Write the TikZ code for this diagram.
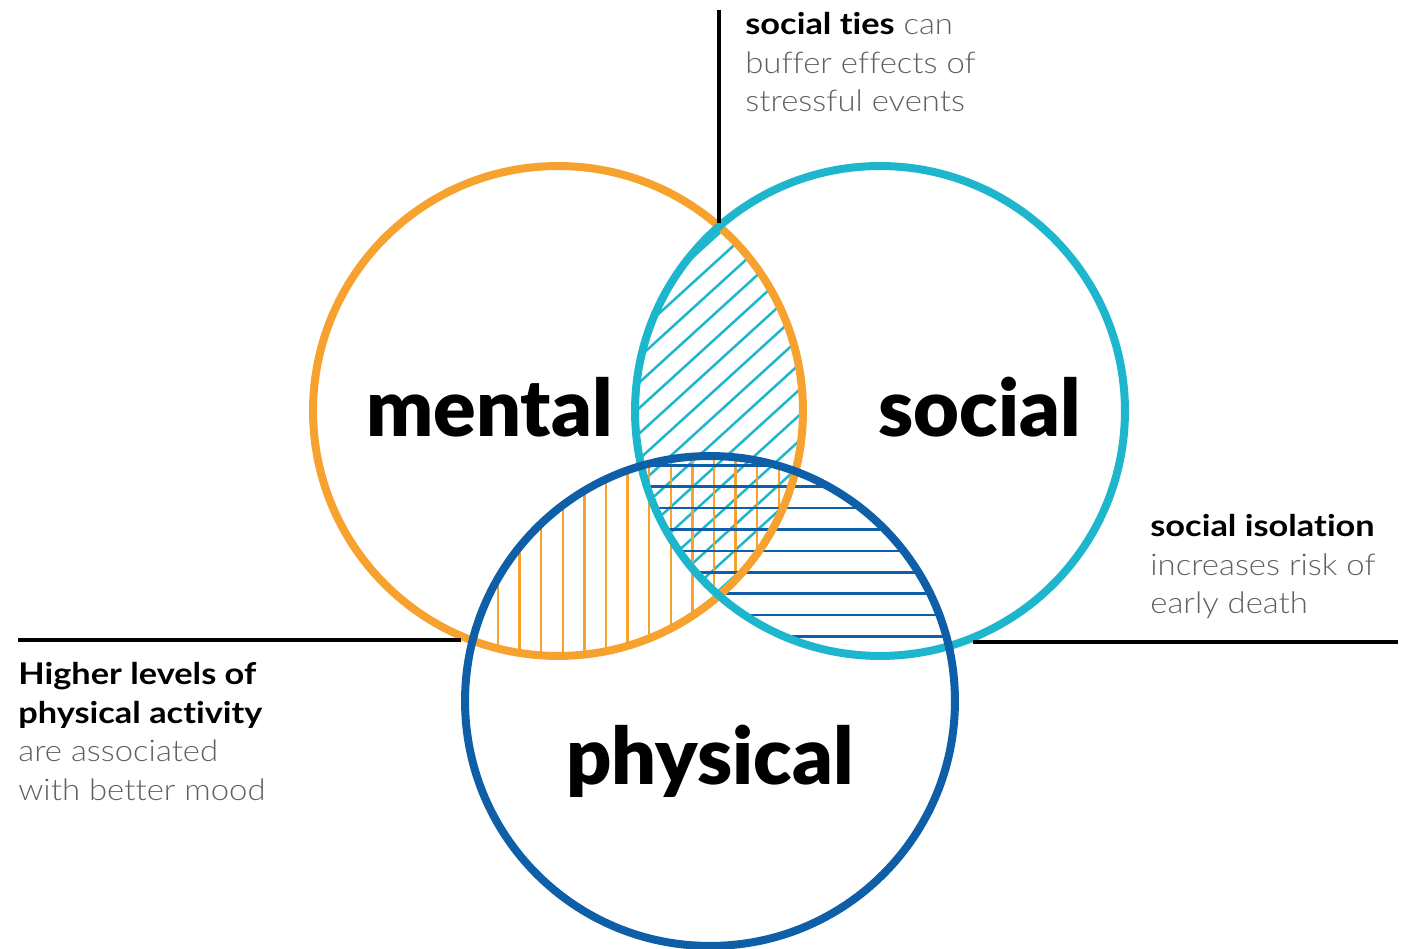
\documentclass[tikz,border=0pt]{standalone}
\usepackage{fontspec}
\setmainfont{Lato}[FakeStretch=1.15, Ligatures={NoCommon}]
\newfontfamily\latolight{Lato Light}[FakeStretch=1.1, Ligatures={NoCommon}]
\newfontfamily\latoblack{Lato Black}
\usepackage{tikz}
\definecolor{orangem}{HTML}{F7A12E}
\definecolor{cyans}{HTML}{1DB6CC}
\definecolor{bleup}{HTML}{0E5FA8}
\definecolor{grist}{HTML}{606060}
\newcommand\leger[1]{{\latolight\color{grist}#1}}

\begin{document}
\begin{tikzpicture}[x=0.02cm,y=0.02cm]
\tikzset{rond/.style={draw, circle, line width=0.16cm, minimum size=9.8cm, inner sep=0},
  hach/.style={line width=0.05cm},
  trait/.style={line width=0.09cm, black},
  mot/.style={font=\latoblack\fontsize{45}{45}\selectfont, inner sep=0, anchor=base west},
  legende/.style={align=left, inner sep=0, anchor=north west, font=\fontsize{17}{22}\selectfont}}
\useasboundingbox (0,0) rectangle (1407,949);
% hachures
\begin{scope}
\clip (558,538) circle[radius=245];
\clip (880,538) circle[radius=245];
\foreach \k in {-12,...,12}
  \draw[hach, cyans] ({440+28*\k},283) -- ({1000+28*\k},793);
\end{scope}
\begin{scope}
\clip (558,538) circle[radius=245];
\clip (710,248) circle[radius=245];
\foreach \k in {-2,...,15}
  \draw[hach, orangem] ({498+21.6*\k},200) -- ({498+21.6*\k},560);
\end{scope}
\begin{scope}
\clip (880,538) circle[radius=245];
\clip (710,248) circle[radius=245];
\foreach \k in {-2,...,12}
  \draw[hach, bleup] (600,{462.3-21.4*\k}) -- (1000,{462.3-21.4*\k});
\end{scope}
% cercles
\node[rond, draw=orangem] (mental) at (558,538) {};
\node[rond, draw=cyans] (social) at (880,538) {};
\node[rond, draw=bleup] (physical) at (710,248) {};
% traits
\coordinate (haut) at (719,939);
\coordinate (gauche) at (18,309);
\coordinate (droite) at (1398,307);
\draw[trait] (haut) -- (haut |- mental.49);
\draw[trait] (gauche) -- (gauche -| mental.247);
\draw[trait] (droite -| social.292) -- (droite);
% mots
\node[mot] (lmental) at (366,512) {mental};
\node[mot] (lsocial) at (878,512) {social};
\node[mot] (lphysical) at (566,164) {physical};
% legendes
\node[legende] (ttop) at (745,937) {\textbf{social ties} \leger{can}\\ \leger{buffer effects of}\\ \leger{stressful events}};
\node[legende] (tright) at (1150,435) {\textbf{social isolation}\\ \leger{increases risk of}\\ \leger{early death}};
\node[legende] (tleft) at (18,287) {\textbf{Higher levels of}\\ \textbf{physical activity}\\ \leger{are associated}\\ \leger{with better mood}};
\end{tikzpicture}
\end{document}
